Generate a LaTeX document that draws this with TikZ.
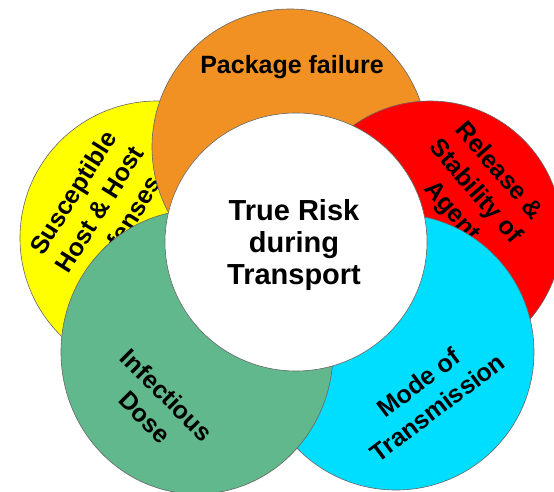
\documentclass[tikz,border=0pt]{standalone}
\usepackage{fontspec}
\setmainfont{Liberation Sans}
\usetikzlibrary{shapes.geometric}
\definecolor{hostyellow}{RGB}{255,255,0}
\definecolor{packorange}{RGB}{242,145,35}
\definecolor{agentred}{RGB}{255,0,0}
\definecolor{modecyan}{RGB}{0,222,255}
\definecolor{dosegreen}{RGB}{96,184,140}
\begin{document}
\begin{tikzpicture}[x=1pt, y=-1pt,
    every node/.style={inner sep=0pt},
    petal/.style={ellipse, draw=black!60, line width=0.6pt},
    petaltext/.style={align=center, font=\bfseries\fontsize{25}{31}\selectfont}]

        \useasboundingbox (0,0) rectangle (554,492);

        \node[petal, fill=hostyellow, minimum width=274pt, minimum height=274pt] (host) at (157,238) {};
        \node[petaltext, rotate=58] (hosttext) at (99,209) {Susceptible\\Host \& Host\\Defenses};

        \node[petal, fill=packorange, minimum width=276pt, minimum height=276pt] (package) at (290,147) {};
        \node[petaltext, anchor=base] (packagetext) at (292,74) {Package failure};

        \node[petal, fill=agentred, minimum width=264pt, minimum height=264pt] (agent) at (430,233) {};
        \node[petaltext, rotate=-49] (agenttext) at (475,192) {Release \&\\Stability of\\Agent};

        \node[petal, fill=modecyan, minimum width=276pt, minimum height=276pt] (mode) at (396,352) {};
        \node[petaltext, rotate=37] (modetext) at (428,395) {Mode of\\Transmission};

        \node[petal, fill=dosegreen, minimum width=272pt, minimum height=284pt] (dose) at (197,352) {};
        \node[petaltext, rotate=-45] (dosetext) at (156,406) {Infectious\\Dose};

        \node[petal, fill=white, minimum width=262pt, minimum height=258pt] (risk) at (296,242) {};
        \node[align=center, font=\bfseries\fontsize{29}{32.5}\selectfont] (risktext) at (294,245) {True Risk\\during\\Transport};

    \end{tikzpicture}
\end{document}
